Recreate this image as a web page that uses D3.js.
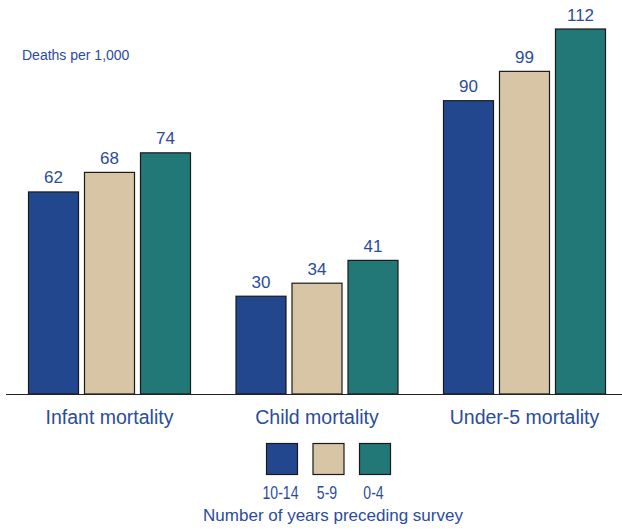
<!DOCTYPE html>
<html>
<head>
<meta charset="utf-8">
<script src="https://cdn.jsdelivr.net/npm/d3@7"></script>
<style>
  body { margin: 0; background: #fff; }
  text { font-family: "Liberation Sans", Arial, sans-serif; fill: #2b4c9c; }
</style>
</head>
<body>
<svg id="chart"></svg>
<script>
// chart data
const categories = ["Infant mortality", "Child mortality", "Under-5 mortality"];
const periods = ["10-14", "5-9", "0-4"];
const rate1014 = [62, 30, 90];
const rate59 = [68, 34, 99];
const rate04 = [74, 41, 112];

const colors = ["#23478e", "#d8c5a6", "#227777"];

const width = 622, height = 531;
const margin = {top: 29, bottom: 137};
const baseline = height - margin.bottom; // 394

const svg = d3.select("#chart")
    .attr("width", width)
    .attr("height", height);

// reshape the arrays into rows the scales can use
const series = [rate1014, rate59, rate04];
const rows = categories.map((c, i) => ({
  category: c,
  values: periods.map((p, j) => ({period: p, value: series[j][i]}))
}));

// group centres
const xScale = d3.scalePoint()
    .domain(categories)
    .range([109.5, 524.5]);

// bars inside a group, relative to its centre
const xInner = d3.scaleBand()
    .domain(periods)
    .range([-81, 81])
    .paddingInner(0.107);

const yScale = d3.scaleLinear()
    .domain([0, 112])
    .range([baseline, margin.top]);

const color = d3.scaleOrdinal().domain(periods).range(colors);

// y label
svg.append("text")
    .attr("x", 22)
    .attr("y", 60)
    .attr("font-size", "14px")
    .text("Deaths per 1,000");

const groups = svg.selectAll(".group")
  .data(rows)
  .join("g")
    .attr("class", "group")
    .attr("transform", d => `translate(${xScale(d.category)},0)`);

groups.selectAll("rect")
  .data(d => d.values)
  .join("rect")
    .attr("x", d => xInner(d.period))
    .attr("y", d => yScale(d.value))
    .attr("width", xInner.bandwidth())
    .attr("height", d => baseline - yScale(d.value))
    .attr("fill", d => color(d.period))
    .attr("stroke", "#1a1a1a")
    .attr("stroke-width", 1.2);

groups.selectAll(".val")
  .data(d => d.values)
  .join("text")
    .attr("class", "val")
    .attr("x", d => xInner(d.period) + xInner.bandwidth() / 2)
    .attr("y", d => yScale(d.value) - 8.5)
    .attr("text-anchor", "middle")
    .attr("font-size", "17px")
    .text(d => d.value);

// baseline axis
svg.append("line")
    .attr("x1", 6).attr("x2", width)
    .attr("y1", baseline + 0.5).attr("y2", baseline + 0.5)
    .attr("stroke", "#222")
    .attr("stroke-width", 1.2);

groups.append("text")
    .attr("x", 0)
    .attr("y", baseline + 30)
    .attr("text-anchor", "middle")
    .attr("font-size", "19.5px")
    .text(d => d.category);

// legend
const legendX = d3.scalePoint()
    .domain(periods)
    .range([282, 375]);

const legend = svg.append("g");

legend.selectAll("rect")
  .data(periods)
  .join("rect")
    .attr("x", d => legendX(d) - 15.5)
    .attr("y", 443.5)
    .attr("width", 31)
    .attr("height", 31)
    .attr("fill", d => color(d))
    .attr("stroke", "#1a1a1a")
    .attr("stroke-width", 1.2);

// legend labels are condensed in the original
legend.selectAll("text")
  .data(periods)
  .join("text")
    .attr("transform", d => `translate(${legendX(d) - 1.5},499) scale(0.78,1)`)
    .attr("text-anchor", "middle")
    .attr("font-size", "18px")
    .text(d => d);

svg.append("text")
    .attr("x", 333)
    .attr("y", 521)
    .attr("text-anchor", "middle")
    .attr("font-size", "17px")
    .text("Number of years preceding survey");
</script>
</body>
</html>
